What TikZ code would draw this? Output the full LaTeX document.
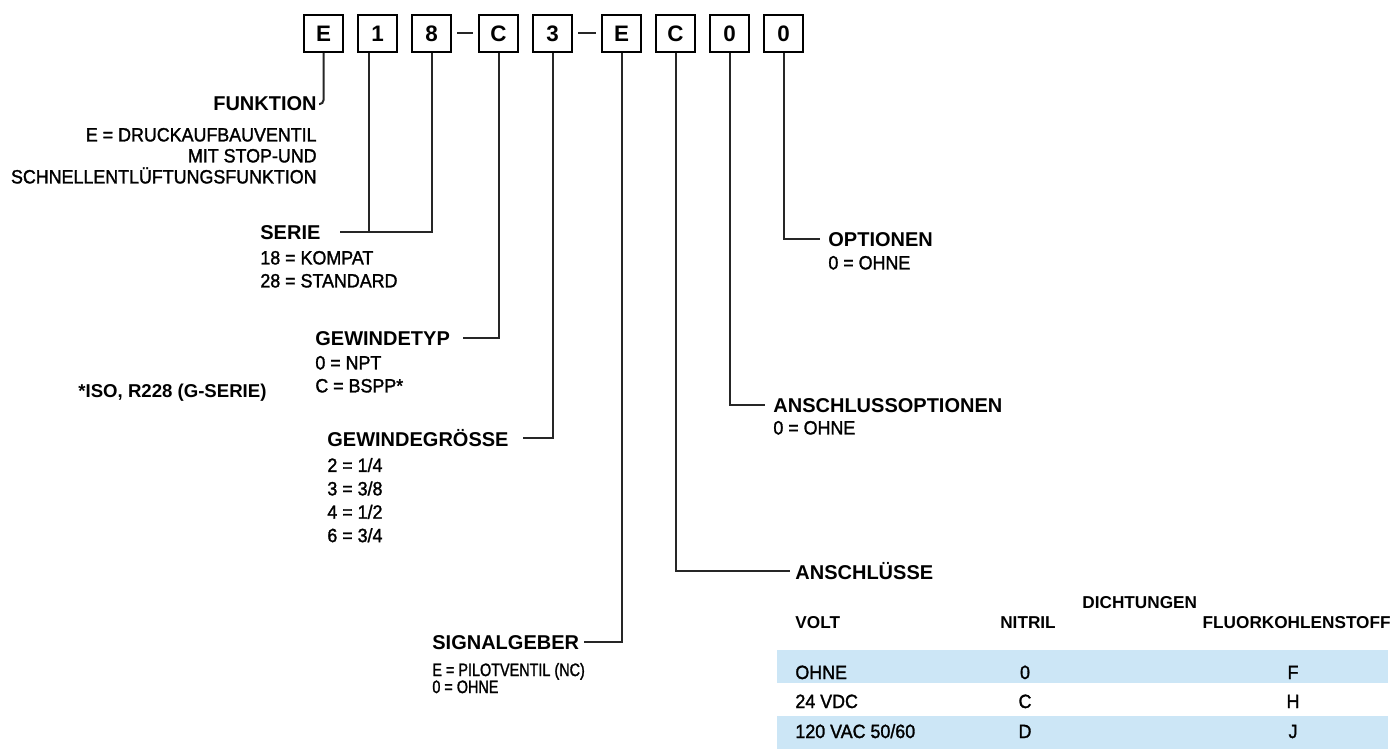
\documentclass[tikz,border=0pt]{standalone}
\usepackage{fontspec}
\setmainfont{Liberation Sans}
\newfontfamily\medfont{Liberation Sans}[FakeStretch=0.93,FakeBold=1.5]
\newfontfamily\narrowfont{Liberation Sans}[FakeStretch=0.8,FakeBold=1.5]
\usepackage{tikz}
\usetikzlibrary{positioning,calc}
\definecolor{rowblue}{RGB}{204,230,246}
\tikzset{
  codebox/.style={draw=black,line width=1.2pt,minimum width=19.3pt,minimum height=18.3pt,
    inner sep=0pt,font=\fontsize{11.2}{12}\selectfont\bfseries},
  keyhead/.style={inner sep=0pt,font=\fontsize{10}{12}\selectfont\bfseries},
  keyval/.style={inner sep=0pt,align=left,font=\medfont\fontsize{9.6}{11.5}\selectfont},
  tablehead/.style={inner sep=0pt,font=\fontsize{8.6}{10}\selectfont\bfseries},
  tablecell/.style={inner sep=0pt,font=\medfont\fontsize{9.6}{10}\selectfont},
  lead/.style={line width=1pt,draw=black!85},
  joiner/.style={line width=1pt,draw=black!85,shorten <=2.5pt,shorten >=2.5pt}
}

\begin{document}
\begin{tikzpicture}[x=0.5pt,y=-0.5pt,node distance=6.5pt]
\useasboundingbox (0,0) rectangle (1395,749);
\fill[rowblue] (777,650) rectangle (1388,683);
\fill[rowblue] (777,716) rectangle (1388,749);
\node[codebox] (fn) at (323.5,33.5) {E};
\node[codebox,right=of fn] (s1) {1};
\node[codebox,right=of s1] (s2) {8};
\node[codebox,right=13pt of s2] (gt) {C};
\node[codebox,right=of gt] (gg) {3};
\node[codebox,right=14pt of gg] (sg) {E};
\node[codebox,right=of sg] (an) {C};
\node[codebox,right=of an] (ao) {0};
\node[codebox,right=of ao] (op) {0};
\draw[joiner] (s2) -- (gt);
\draw[joiner] (gg) -- (sg);
\node[keyhead,anchor=base east] (funktion) at (317,111) {FUNKTION};
\node[keyval,align=right,font=\medfont\fontsize{9.6}{10.5}\selectfont,below=8pt of funktion.south east,anchor=north east] (funktionval) {E = DRUCKAUFBAUVENTIL\\MIT STOP-UND\\SCHNELLENTLÜFTUNGSFUNKTION};
\node[keyhead,anchor=base west] (serie) at (260,239) {SERIE};
\node[keyval,below=5.5pt of serie.south west,anchor=north west] (serieval) {18 = KOMPAT\\28 = STANDARD};
\node[keyhead,anchor=base west] (gewindetyp) at (315,345) {GEWINDETYP};
\node[keyval,below=5pt of gewindetyp.south west,anchor=north west] (gewindetypval) {0 = NPT\\C = BSPP*};
\node[keyhead,font=\fontsize{9.3}{11}\selectfont\bfseries,anchor=base west] (isonote) at (78,397) {*ISO, R228 (G-SERIE)};
\node[keyhead,anchor=base west] (gewindegr) at (327,446) {GEWINDEGRÖSSE};
\node[keyval,font=\medfont\fontsize{9.6}{11.7}\selectfont,below=5.5pt of gewindegr.south west,anchor=north west] (gewindegrval) {2 = 1/4\\3 = 3/8\\4 = 1/2\\6 = 3/4};
\node[keyhead,anchor=base west] (signalgeber) at (432,649) {SIGNALGEBER};
\node[keyval,font=\narrowfont\fontsize{9}{8.5}\selectfont,below=6.5pt of signalgeber.south west,anchor=north west] (signalval) {E = PILOTVENTIL (NC)\\0 = OHNE};
\node[keyhead,anchor=base west] (optionen) at (828,246) {OPTIONEN};
\node[keyval,below=4.5pt of optionen.south west,anchor=north west] (optionenval) {0 = OHNE};
\node[keyhead,anchor=base west] (anschlussopt) at (773,412) {ANSCHLUSSOPTIONEN};
\node[keyval,below=4pt of anschlussopt.south west,anchor=north west] (anschlussoptval) {0 = OHNE};
\node[keyhead,anchor=base west] (anschluesse) at (795,579) {ANSCHLÜSSE};
\node[tablehead,anchor=base west] (dichtungen) at (1082,608) {DICHTUNGEN};
\node[tablehead,anchor=base west] (volthead) at (795,628) {VOLT};
\node[tablehead,anchor=base] (nitrilhead) at (1028,628) {NITRIL};
\node[tablehead,anchor=base east] (fluorhead) at (1391,628) {FLUORKOHLENSTOFF};
\node[tablecell,anchor=base west] (voltA) at (795,679) {OHNE};
\node[tablecell,anchor=base] (nitrilA) at (1025,679) {0};
\node[tablecell,anchor=base] (fluorA) at (1293,679) {F};
\node[tablecell,anchor=base west] (voltB) at (795,708) {24 VDC};
\node[tablecell,anchor=base] (nitrilB) at (1025,708) {C};
\node[tablecell,anchor=base] (fluorB) at (1293,708) {H};
\node[tablecell,anchor=base west] (voltC) at (795,738) {120 VAC 50/60};
\node[tablecell,anchor=base] (nitrilC) at (1025,738) {D};
\node[tablecell,anchor=base] (fluorC) at (1293,738) {J};
\coordinate (s1foot) at ([xshift=-4.25pt]s1.south);
\draw[lead,rounded corners=2pt] (fn.south) |- ([xshift=1pt]funktion.east);
\draw[lead] (s2.south) |- ([xshift=9.5pt]serie.east);
\draw[lead] (s1foot) -- (s1foot |- serie.east);
\draw[lead] (gt.south) |- ([xshift=6.5pt]gewindetyp.east);
\draw[lead] (gg.south) |- ([xshift=7pt]gewindegr.east);
\draw[lead] (sg.south) |- ([xshift=2.5pt]signalgeber.east);
\draw[lead] (an.south) |- ([xshift=-2.5pt]anschluesse.west);
\draw[lead] (ao.south) |- ([xshift=-4pt]anschlussopt.west);
\draw[lead] (op.south) |- ([xshift=-4pt]optionen.west);
\end{tikzpicture}
\end{document}
